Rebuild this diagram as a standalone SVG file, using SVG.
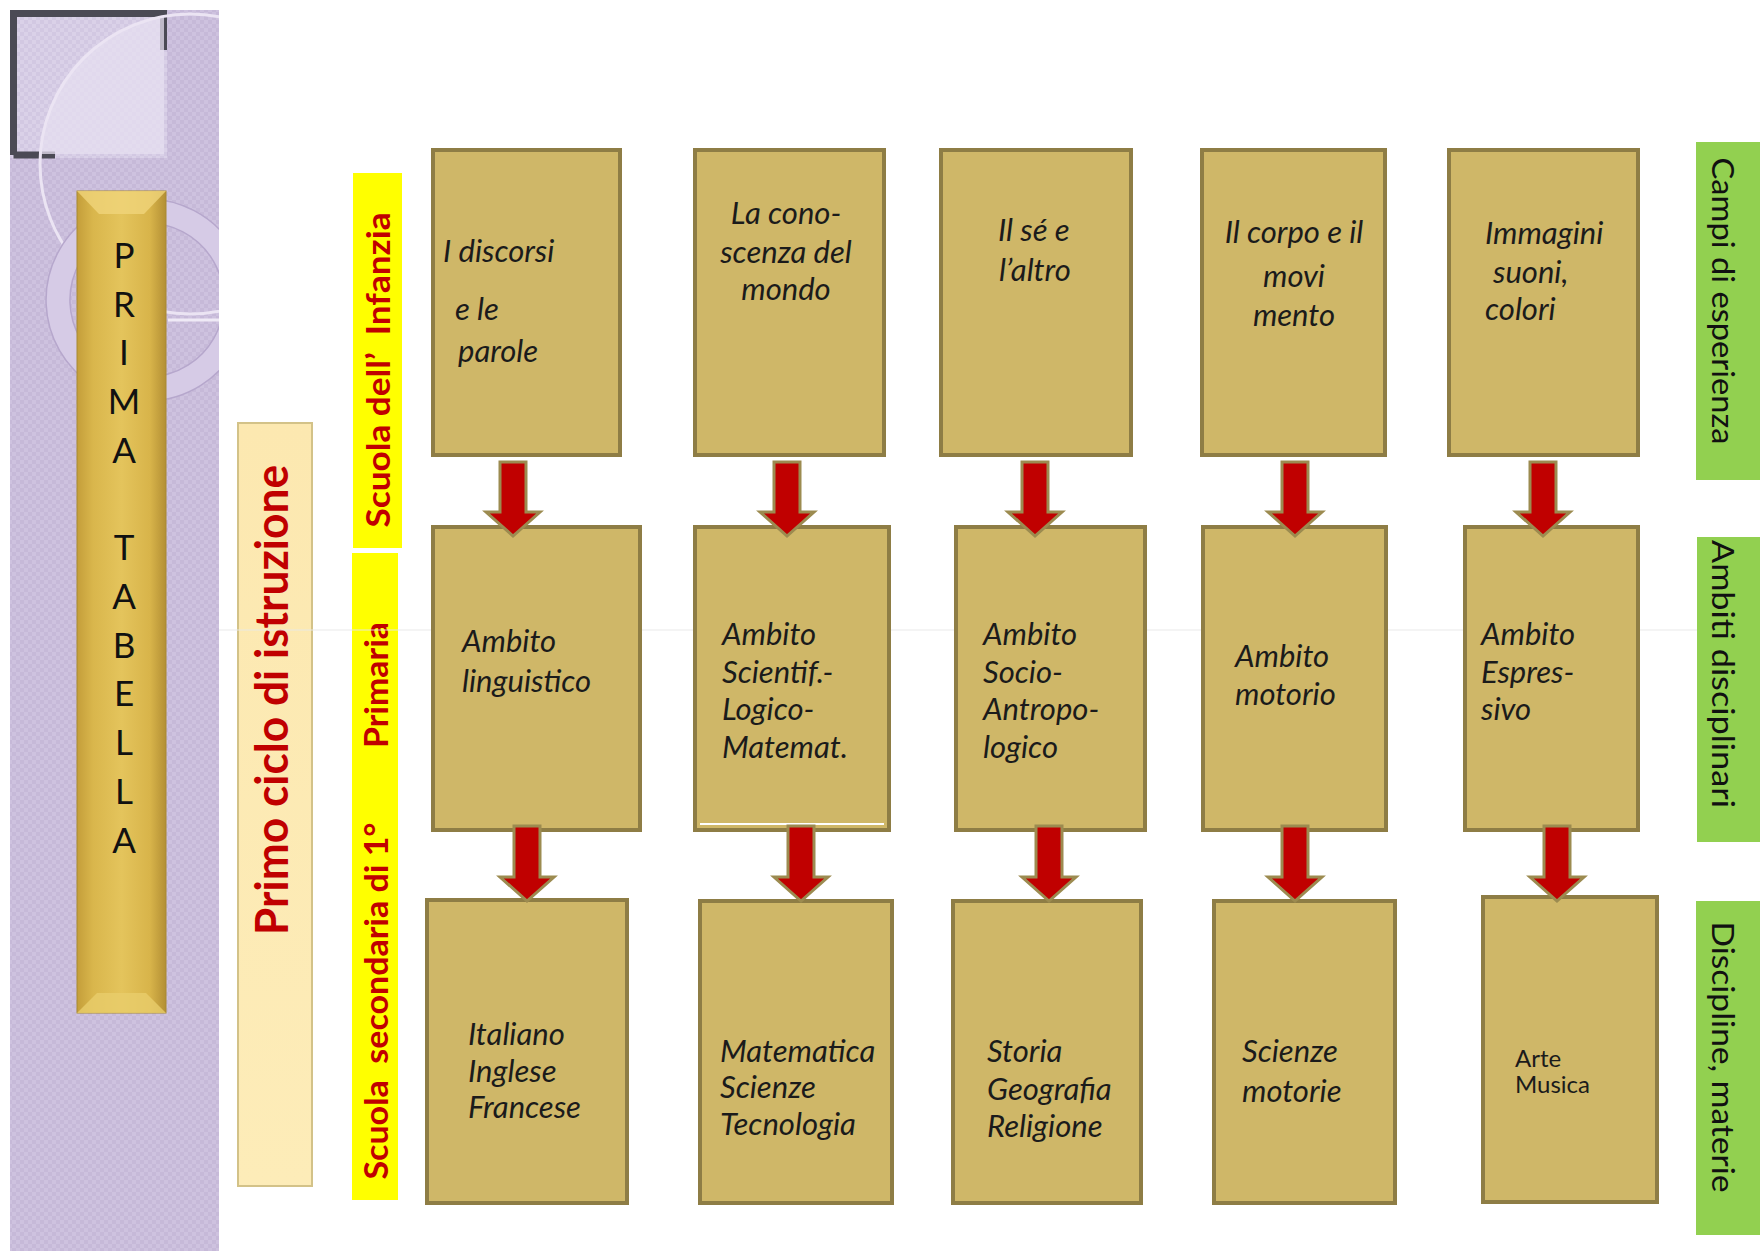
<svg xmlns="http://www.w3.org/2000/svg" width="1760" height="1251" viewBox="0 0 1760 1251">
<style>
.box{fill:#cfb768;stroke:#8e7d45;stroke-width:4}
.bt{font-family:Lato,"Open Sans",sans-serif;font-style:italic;font-size:31px;fill:#1b1b1b}
.bu{font-family:Lato,"Open Sans",sans-serif;font-size:24px;fill:#1b1b1b}
.arrow{fill:#c00000;stroke:#9c8b50;stroke-width:3;stroke-linejoin:miter}
.red{font-family:Lato,"Open Sans",sans-serif;font-weight:700;fill:#c00000;white-space:pre}
.green{fill:#92d050}
.gl{font-family:Lato,"Open Sans",sans-serif;font-size:31px;fill:#111}
.letters{font-family:Lato,"Open Sans",sans-serif;font-size:35px;fill:#111}
</style>
<defs>
<pattern id="chk" width="8" height="8" patternUnits="userSpaceOnUse">
<rect width="8" height="8" fill="#c6b9d8"/>
<rect width="4" height="4" fill="#cec2df"/>
<rect x="4" y="4" width="4" height="4" fill="#cec2df"/>
</pattern>
<pattern id="chkL" width="8" height="8" patternUnits="userSpaceOnUse">
<rect width="8" height="8" fill="#d2c8e2"/>
<rect width="4" height="4" fill="#dad1e8"/>
<rect x="4" y="4" width="4" height="4" fill="#dad1e8"/>
</pattern>
<clipPath id="panelClip"><rect x="10" y="10" width="209" height="1241"/></clipPath>
<clipPath id="frameClip"><rect x="14" y="14" width="150" height="140"/></clipPath>
<linearGradient id="gold" x1="0" y1="0" x2="1" y2="0">
<stop offset="0" stop-color="#c49e3a"/>
<stop offset="0.18" stop-color="#d9b64c"/>
<stop offset="0.5" stop-color="#e4c45c"/>
<stop offset="0.82" stop-color="#d8b44a"/>
<stop offset="1" stop-color="#b38f34"/>
</linearGradient>
<linearGradient id="cream" x1="0" y1="0" x2="0" y2="1">
<stop offset="0" stop-color="#fce8b0"/>
<stop offset="1" stop-color="#fdecb8"/>
</linearGradient>
</defs>

<rect width="1760" height="1251" fill="#ffffff"/>

<g id="side-panel" clip-path="url(#panelClip)">
<rect x="10" y="10" width="209" height="1241" fill="url(#chk)"/>
<rect x="10" y="10" width="157" height="148" fill="url(#chkL)"/>
<path d="M13.5 155 V13.5 H163.5 V50" fill="none" stroke="#4b4a55" stroke-width="7"/>
<path d="M13.5 155 H55" fill="none" stroke="#4b4a55" stroke-width="7"/>
<circle cx="190" cy="164" r="150" fill="#e6dff0" fill-opacity="0.75" clip-path="url(#frameClip)"/>
<circle cx="190" cy="164" r="150" fill="none" stroke="#ebe4f3" stroke-width="3"/>
<path d="M147 199 a101 101 0 1 0 0.1 0 Z M147 223 a77 77 0 1 1 -0.1 0 Z" fill="#d6cbe6" fill-rule="evenodd" stroke="#b6a7cc" stroke-width="1.5"/>
<line x1="168" y1="320" x2="219" y2="320" stroke="#efeaf6" stroke-width="3"/>
</g>

<g id="prima-tabella">
<rect x="77" y="191" width="89" height="822" fill="url(#gold)" stroke="#a88a35" stroke-width="1"/>
<polygon points="77,191 166,191 144,214 99,214" fill="#f0d47a" fill-opacity="0.8"/>
<polygon points="77,1013 166,1013 146,993 97,993" fill="#e9cd6c" fill-opacity="0.8"/>
<text class="letters" text-anchor="middle"><tspan x="124" y="268">P</tspan><tspan x="124" y="316.7">R</tspan><tspan x="124" y="365.4">I</tspan><tspan x="124" y="414">M</tspan><tspan x="124" y="462.8">A</tspan><tspan x="124" y="560">T</tspan><tspan x="124" y="609">A</tspan><tspan x="124" y="657.6">B</tspan><tspan x="124" y="706">E</tspan><tspan x="124" y="755">L</tspan><tspan x="124" y="804">L</tspan><tspan x="124" y="852.7">A</tspan></text>
</g>

<g id="primo-ciclo">
<rect x="238" y="423" width="74" height="763" fill="url(#cream)" stroke="#d3c288" stroke-width="2"/>
<text class="red" font-size="45" text-anchor="middle" textLength="470" lengthAdjust="spacingAndGlyphs" transform="translate(288,700) rotate(-90)">Primo ciclo di istruzione</text>
</g>

<g id="scuola-infanzia">
<rect x="353" y="173" width="49" height="375" fill="#ffff00"/>
<text class="red" font-size="32" text-anchor="middle" textLength="315" lengthAdjust="spacingAndGlyphs" transform="translate(390,370) rotate(-90)">Scuola dell’  Infanzia</text>
</g>

<g id="scuola-primaria-secondaria">
<rect x="352" y="553" width="46" height="647" fill="#ffff00"/>
<text class="red" font-size="32" text-anchor="middle" textLength="126" lengthAdjust="spacingAndGlyphs" transform="translate(388,685) rotate(-90)">Primaria</text>
<text class="red" font-size="32" text-anchor="middle" textLength="357" lengthAdjust="spacingAndGlyphs" transform="translate(388,1001) rotate(-90)">Scuola  secondaria di 1°</text>
</g>

<line x1="219" y1="630" x2="1760" y2="630" stroke="#e8e8e8" stroke-width="1.5" opacity="0.6"/>

<g id="label-campi">
<rect class="green" x="1696" y="142" width="64" height="338"/>
<text class="gl" text-anchor="middle" textLength="287" lengthAdjust="spacingAndGlyphs" transform="translate(1723,301) rotate(90)" y="11">Campi di esperienza</text>
</g>
<g id="label-ambiti">
<rect class="green" x="1697" y="537" width="63" height="305"/>
<text class="gl" text-anchor="middle" textLength="268" lengthAdjust="spacingAndGlyphs" transform="translate(1723,674) rotate(90)" y="11">Ambiti disciplinari</text>
</g>
<g id="label-discipline">
<rect class="green" x="1696" y="901" width="64" height="334"/>
<text class="gl" text-anchor="middle" textLength="271" lengthAdjust="spacingAndGlyphs" transform="translate(1723,1057) rotate(90)" y="11">Discipline, materie</text>
</g>

<!-- Row 1: Campi di esperienza -->
<g id="c1">
<rect class="box" x="433" y="150" width="187" height="305"/>
<text class="bt"><tspan x="443" y="262">I discorsi</tspan><tspan x="455" y="320">e le</tspan><tspan x="458" y="362">parole</tspan></text>
</g>
<g id="c2">
<rect class="box" x="695" y="150" width="189" height="305"/>
<text class="bt" text-anchor="middle"><tspan x="786" y="224">La cono-</tspan><tspan x="786" y="263">scenza del</tspan><tspan x="786" y="300">mondo</tspan></text>
</g>
<g id="c3">
<rect class="box" x="941" y="150" width="190" height="305"/>
<text class="bt"><tspan x="998" y="241">Il sé e</tspan><tspan x="999" y="281">l’altro</tspan></text>
</g>
<g id="c4">
<rect class="box" x="1202" y="150" width="183" height="305"/>
<text class="bt" text-anchor="middle"><tspan x="1294" y="243">Il corpo e il</tspan><tspan x="1294" y="287">movi</tspan><tspan x="1294" y="326">mento</tspan></text>
</g>
<g id="c5">
<rect class="box" x="1449" y="150" width="189" height="305"/>
<text class="bt"><tspan x="1485" y="244">Immagini</tspan><tspan x="1493" y="283">suoni,</tspan><tspan x="1485" y="320">colori</tspan></text>
</g>

<!-- Row 2: Ambiti -->
<g id="a1">
<rect class="box" x="433" y="527" width="207" height="303"/>
<text class="bt"><tspan x="462" y="652">Ambito</tspan><tspan x="462" y="692">linguistico</tspan></text>
</g>
<g id="a2">
<rect class="box" x="695" y="527" width="194" height="303"/>
<line x1="700" y1="824" x2="884" y2="824" stroke="#ffffff" stroke-width="2"/>
<text class="bt"><tspan x="722" y="645">Ambito</tspan><tspan x="722" y="683">Scientif.-</tspan><tspan x="722" y="720">Logico-</tspan><tspan x="722" y="758">Matemat.</tspan></text>
</g>
<g id="a3">
<rect class="box" x="956" y="527" width="189" height="303"/>
<text class="bt"><tspan x="983" y="645">Ambito</tspan><tspan x="983" y="683">Socio-</tspan><tspan x="983" y="720">Antropo-</tspan><tspan x="983" y="758">logico</tspan></text>
</g>
<g id="a4">
<rect class="box" x="1203" y="527" width="183" height="303"/>
<text class="bt"><tspan x="1235" y="667">Ambito</tspan><tspan x="1235" y="705">motorio</tspan></text>
</g>
<g id="a5">
<rect class="box" x="1465" y="527" width="173" height="303"/>
<text class="bt"><tspan x="1481" y="645">Ambito</tspan><tspan x="1481" y="683">Espres-</tspan><tspan x="1481" y="720">sivo</tspan></text>
</g>

<!-- Row 3: Discipline -->
<g id="d1">
<rect class="box" x="427" y="900" width="200" height="303"/>
<text class="bt"><tspan x="468" y="1045">Italiano</tspan><tspan x="468" y="1082">Inglese</tspan><tspan x="468" y="1118">Francese</tspan></text>
</g>
<g id="d2">
<rect class="box" x="700" y="901" width="192" height="302"/>
<text class="bt"><tspan x="720" y="1062">Matematica</tspan><tspan x="720" y="1098">Scienze</tspan><tspan x="720" y="1135">Tecnologia</tspan></text>
</g>
<g id="d3">
<rect class="box" x="953" y="901" width="188" height="302"/>
<text class="bt"><tspan x="987" y="1062">Storia</tspan><tspan x="987" y="1100">Geografia</tspan><tspan x="987" y="1137">Religione</tspan></text>
</g>
<g id="d4">
<rect class="box" x="1214" y="901" width="181" height="302"/>
<text class="bt"><tspan x="1242" y="1062">Scienze</tspan><tspan x="1242" y="1102">motorie</tspan></text>
</g>
<g id="d5">
<rect class="box" x="1483" y="897" width="174" height="305"/>
<text class="bu"><tspan x="1515" y="1067">Arte</tspan><tspan x="1515" y="1093">Musica</tspan></text>
</g>

<g id="connectors">
<path class="arrow" d="M500 462 H526 V512 H540 L513 536 L486 512 H500 Z"/>
<path class="arrow" d="M774 462 H800 V512 H814 L787 536 L760 512 H774 Z"/>
<path class="arrow" d="M1022 462 H1048 V512 H1062 L1035 536 L1008 512 H1022 Z"/>
<path class="arrow" d="M1282 462 H1308 V512 H1322 L1295 536 L1268 512 H1282 Z"/>
<path class="arrow" d="M1530 462 H1556 V512 H1570 L1543 536 L1516 512 H1530 Z"/>
<path class="arrow" d="M514 826 H540 V877 H554 L527 901 L500 877 H514 Z"/>
<path class="arrow" d="M788 826 H814 V877 H828 L801 901 L774 877 H788 Z"/>
<path class="arrow" d="M1036 826 H1062 V877 H1076 L1049 901 L1022 877 H1036 Z"/>
<path class="arrow" d="M1282 826 H1308 V877 H1322 L1295 901 L1268 877 H1282 Z"/>
<path class="arrow" d="M1544 826 H1570 V877 H1584 L1557 901 L1530 877 H1544 Z"/>
</g>
</svg>
